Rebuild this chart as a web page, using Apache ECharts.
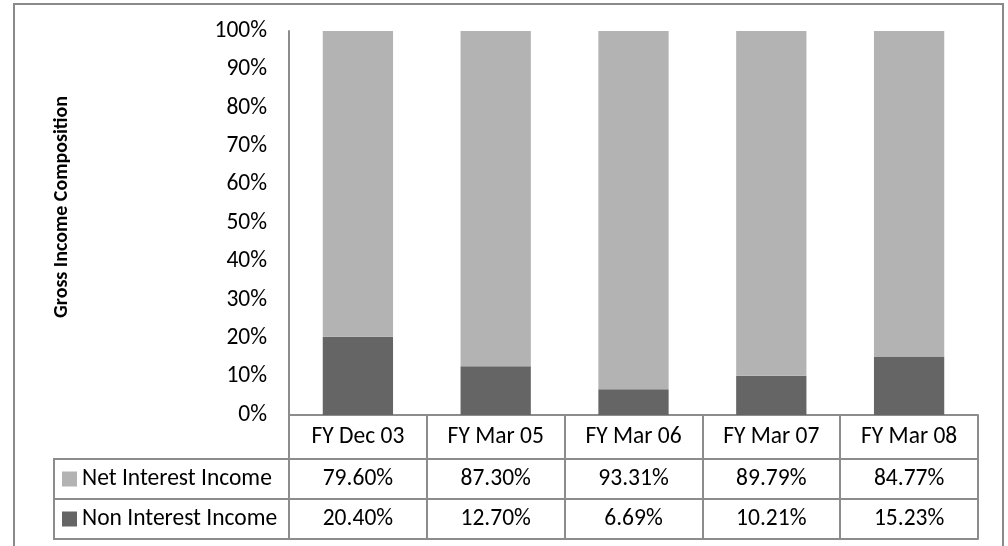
<!DOCTYPE html>
<html>
<head>
<meta charset="utf-8">
<script src="https://cdn.jsdelivr.net/npm/echarts@6/dist/echarts.min.js"></script>
<style>
  html, body { margin: 0; padding: 0; background: #fff; }
  #chart { width: 1008px; height: 546px; }
</style>
</head>
<body>
<div id="chart"></div>
<script>
// Fiscal periods shown along the category axis
const categories = ['FY Dec 03', 'FY Mar 05', 'FY Mar 06', 'FY Mar 07', 'FY Mar 08'];
// Share of gross income, in percent
const netInterestIncome = [79.60, 87.30, 93.31, 89.79, 84.77];
const nonInterestIncome = [20.40, 12.70, 6.69, 10.21, 15.23];
const seriesNames = ['Net Interest Income', 'Non Interest Income'];
const yTicks = [0, 10, 20, 30, 40, 50, 60, 70, 80, 90, 100];

const FONT = 'Carlito, Lato, "Liberation Sans", sans-serif';
const FS = 23.5;
const LINE = '#8c8c8c';
const NET_COLOR = '#b3b3b3';
const NON_COLOR = '#656565';

const pct = v => v.toFixed(2) + '%';

const chart = echarts.init(document.getElementById('chart'), null, { renderer: 'canvas' });

// Each data-table row is an extra category axis pushed further below the plot
function tableRowAxis(offset, values) {
  return {
    type: 'category',
    data: categories,
    position: 'bottom',
    offset: offset,
    axisLine: { show: true, lineStyle: { color: LINE, width: 2 } },
    axisTick: { show: false },
    axisLabel: values ? {
      show: true,
      margin: 20,
      verticalAlign: 'middle',
      fontFamily: FONT,
      fontSize: FS,
      color: '#000',
      formatter: (v, i) => pct(values[i])
    } : { show: false },
    splitLine: { show: false }
  };
}

chart.setOption({
  animation: false,
  backgroundColor: '#fff',
  grid: { left: 289, top: 31, right: 30, bottom: 131, containLabel: false },
  legend: {
    data: seriesNames,
    orient: 'vertical',
    left: 62,
    top: 467,
    padding: 0,
    icon: 'rect',
    itemWidth: 15,
    itemHeight: 15,
    itemGap: 16,
    selectedMode: false,
    textStyle: { fontFamily: FONT, fontSize: FS, color: '#000', lineHeight: 24 }
  },
  xAxis: [
    {
      type: 'category',
      data: categories,
      position: 'bottom',
      axisLine: { show: true, lineStyle: { color: LINE, width: 2 } },
      axisTick: { show: true, length: 124, lineStyle: { color: LINE, width: 2 } },
      axisLabel: {
        margin: 22,
        verticalAlign: 'middle',
        fontFamily: FONT,
        fontSize: FS,
        color: '#000'
      },
      splitLine: { show: false }
    },
    tableRowAxis(44, netInterestIncome),
    tableRowAxis(84, nonInterestIncome),
    tableRowAxis(124, null)
  ],
  yAxis: {
    type: 'value',
    min: yTicks[0],
    max: yTicks[yTicks.length - 1],
    interval: yTicks[1] - yTicks[0],
    axisLine: { show: true, lineStyle: { color: LINE, width: 2 } },
    axisTick: { show: false },
    splitLine: { show: false },
    axisLabel: {
      margin: 22,
      fontFamily: FONT,
      fontSize: FS,
      color: '#000',
      formatter: '{value}%'
    }
  },
  series: [
    {
      name: seriesNames[1],
      type: 'bar',
      stack: 'income',
      barWidth: '51%',
      itemStyle: { color: NON_COLOR },
      data: nonInterestIncome
    },
    {
      name: seriesNames[0],
      type: 'bar',
      stack: 'income',
      barWidth: '51%',
      itemStyle: { color: NET_COLOR },
      data: netInterestIncome
    }
  ],
  graphic: [
    // chart frame
    {
      type: 'rect',
      silent: true,
      shape: { x: 14, y: 4, width: 989, height: 560 },
      style: { fill: null, stroke: '#8a8a8a', lineWidth: 2 }
    },
    // legend cells of the data table
    {
      type: 'rect',
      silent: true,
      shape: { x: 54, y: 459, width: 235, height: 80 },
      style: { fill: null, stroke: LINE, lineWidth: 2 }
    },
    {
      type: 'line',
      silent: true,
      shape: { x1: 54, y1: 499, x2: 289, y2: 499 },
      style: { stroke: LINE, lineWidth: 2 }
    },
    // value axis title
    {
      type: 'text',
      silent: true,
      x: 62,
      y: 207,
      rotation: Math.PI / 2,
      style: {
        text: 'Gross Income Composition',
        fontFamily: FONT,
        fontSize: 20,
        fontWeight: 'bold',
        fill: '#000',
        align: 'center',
        verticalAlign: 'middle'
      }
    }
  ]
});
</script>
</body>
</html>
